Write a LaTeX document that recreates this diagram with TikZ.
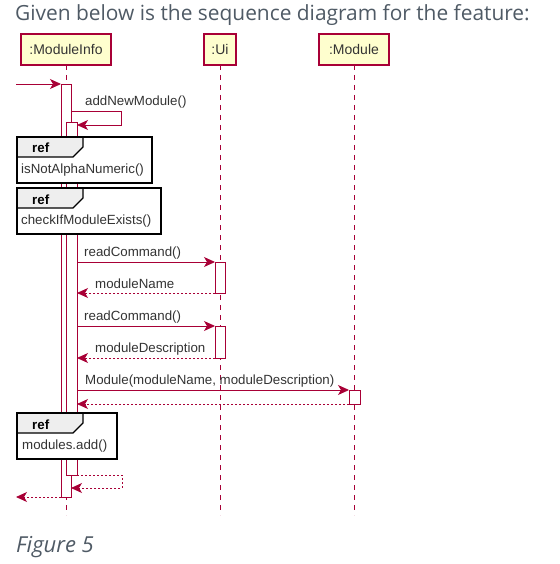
\documentclass[tikz,border=0pt]{standalone}
\usepackage{fontspec}
\setmainfont{Liberation Sans}
\newfontfamily\opensans{Open Sans}
\usetikzlibrary{arrows.meta}
\definecolor{puml}{HTML}{A80036}
\definecolor{pfill}{HTML}{FEFECE}
\definecolor{txtgray}{HTML}{4F5A65}
\definecolor{lbl}{HTML}{333333}
\definecolor{tabfill}{HTML}{EEEEEE}
\begin{document}
\begin{tikzpicture}[x=1pt,y=-1pt,
  part/.style={draw=puml, line width=1.3pt, fill=pfill, inner sep=0pt, outer sep=0pt,
    minimum height=31pt, text=lbl, font=\fontsize{14}{16}\selectfont, anchor=north west},
  life/.style={draw=puml, line width=0.9pt, dash pattern=on 5pt off 5pt},
  act/.style={draw=puml, line width=0.9pt, fill=white, inner sep=0pt, outer sep=0pt, anchor=north west},
  msg/.style={draw=puml, line width=0.9pt, -{Stealth[length=11pt,width=10pt,inset=3pt]}},
  ret/.style={draw=puml, line width=0.9pt, dash pattern=on 2pt off 2pt, -{Stealth[length=11pt,width=10pt,inset=3pt]}},
  lbltext/.style={anchor=base west, inner sep=0pt, text=lbl, font=\fontsize{13.3}{15}\selectfont},
  refbox/.style={draw=black, line width=1.8pt, fill=white, inner sep=0pt, outer sep=0pt, anchor=north west, minimum height=46pt},
  reftab/.style={draw=black, line width=1.4pt, fill=tabfill},
  reftitle/.style={anchor=base west, inner sep=0pt, text=black, font=\bfseries\fontsize{13.3}{15}\selectfont}
]
\useasboundingbox (0,0) rectangle (559,564);

% title and caption
\node[anchor=base west, inner sep=0pt, text=txtgray, font=\opensans\fontsize{20.9}{24}\selectfont] (title) at (15,21) {Given below is the sequence diagram for the feature:};
\node[anchor=base west, inner sep=0pt, text=txtgray, font=\opensans\itshape\fontsize{22}{25}\selectfont] (caption) at (16,552) {Figure 5};

% participants
\node[part, minimum width=90pt] (pMI) at (21,34) {:ModuleInfo};
\node[part, minimum width=32pt] (pUi) at (204,34) {:Ui};
\node[part, minimum width=70pt] (pMod) at (319,34) {:Module};

% lifelines
\coordinate (endMI) at (66,515);
\coordinate (endUi) at (220,515);
\coordinate (endMod) at (354,515);
\draw[life] (pMI.south) -- (endMI);
\draw[life] (pUi.south) -- (endUi);
\draw[life] (pMod.south) -- (endMod);

% activations
\node[act, minimum width=10pt, minimum height=413pt] (a1) at (61,84) {};
\node[act, minimum width=11pt, minimum height=353pt] (a2) at (66,122) {};
\node[act, minimum width=10pt, minimum height=31pt] (ui1) at (215,262) {};
\node[act, minimum width=10pt, minimum height=32pt] (ui2) at (215,326) {};
\node[act, minimum width=11pt, minimum height=14pt] (mod1) at (349,390) {};

% messages
\coordinate (inStart) at (16,84);
\coordinate (outEnd) at (16,497);
\draw[msg] (inStart) -- (a1.north west);

\draw[msg] (a1.east |- 0,111) -- ++(50,0) |- (a2.east |- 0,125);
\node[lbltext] (lAdd) at (85,106) {addNewModule()};

\draw[msg] (a2.east |- ui1.north) -- (ui1.north west);
\node[lbltext] (lRead1) at (84,256) {readCommand()};
\draw[ret] (ui1.south west) -- (a2.east |- ui1.south);
\node[lbltext] (lName) at (95,288) {moduleName};

\draw[msg] (a2.east |- ui2.north) -- (ui2.north west);
\node[lbltext] (lRead2) at (84,320) {readCommand()};
\draw[ret] (ui2.south west) -- (a2.east |- ui2.south);
\node[lbltext] (lDesc) at (95,352) {moduleDescription};

\draw[msg] (a2.east |- mod1.north) -- (mod1.north west);
\node[lbltext] (lMod) at (85,384) {Module(moduleName, moduleDescription)};
\draw[ret] (mod1.south west) -- (a2.east |- mod1.south);

\draw[ret] (a2.south east) -- ++(45,0) |- (a1.east |- 0,488);
\draw[ret] (a1.south west) -- (outEnd);

% ref boxes
\node[refbox, minimum width=135pt] (r1) at (17,137) {};
\draw[reftab] (r1.north west) -- ++(66,0) -- ++(0,10) -- ++(-10,10) -- ++(-56,0) -- cycle;
\draw[draw=black, line width=1.8pt] (r1.north west) rectangle (r1.south east);
\node[reftitle] (r1t) at (32,153) {ref};
\node[lbltext] (r1c) at (21,173) {isNotAlphaNumeric()};

\node[refbox, minimum width=144pt] (r2) at (17,188) {};
\draw[reftab] (r2.north west) -- ++(66,0) -- ++(0,10) -- ++(-10,10) -- ++(-56,0) -- cycle;
\draw[draw=black, line width=1.8pt] (r2.north west) rectangle (r2.south east);
\node[reftitle] (r2t) at (32,204) {ref};
\node[lbltext] (r2c) at (21,224) {checkIfModuleExists()};

\node[refbox, minimum width=100pt] (r3) at (17,413) {};
\draw[reftab] (r3.north west) -- ++(66,0) -- ++(0,10) -- ++(-10,10) -- ++(-56,0) -- cycle;
\draw[draw=black, line width=1.8pt] (r3.north west) rectangle (r3.south east);
\node[reftitle] (r3t) at (32,429) {ref};
\node[lbltext] (r3c) at (22,449) {modules.add()};
\end{tikzpicture}
\end{document}
